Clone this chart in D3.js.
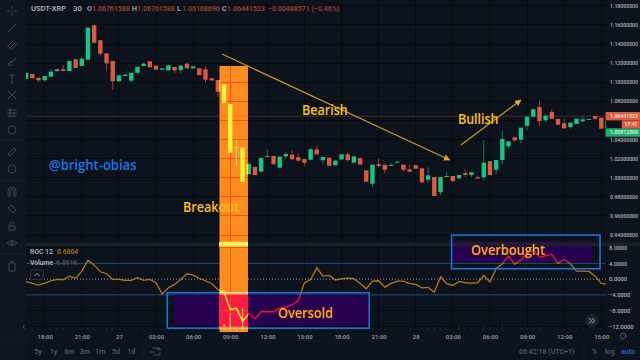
<!DOCTYPE html>
<html>
<head>
<meta charset="utf-8">
<script src="https://cdn.jsdelivr.net/npm/d3@7/dist/d3.min.js"></script>
<style>
  html, body { margin: 0; padding: 0; background: #0c131c; }
  svg { display: block; }
  text { font-family: Roboto, Inter, sans-serif; font-weight: 500; }
</style>
</head>
<body>
<svg id="chart" width="640" height="360"></svg>
<script>
// candles are counted in half hours from 18:00 on the 26th
const firstCandle = -3;
const opens = [1.1037,1.1086,1.1047,1.1020,1.1057,1.1117,1.1135,1.1117,1.1240,1.1170,1.1235,1.1596,1.1439,1.1302,1.1222,1.1009,1.1065,1.1016,1.1099,1.1170,1.1219,1.1173,1.1131,1.1124,1.1159,1.1128,1.1194,1.1145,1.1145,1.1135,1.1041,1.1023,1.0978,1.0772,1.0321,1.0314,1.0036,1.0112,1.0063,1.0217,1.0227,1.0105,1.0224,1.0241,1.0214,1.0196,1.0188,1.0297,1.0182,1.0209,1.0130,1.0191,1.0245,1.0157,1.0206,1.0077,0.9937,1.0140,1.0136,1.0126,1.0161,1.0136,1.0088,1.0130,1.0098,0.9979,1.0007,0.9847,1.0007,1.0018,0.9994,1.0049,1.0028,1.0004,1.0004,1.0172,1.0084,1.0185,1.0329,1.0423,1.0398,1.0544,1.0639,1.0740,1.0601,1.0688,1.0615,1.0570,1.0531,1.0562,1.0591,1.0607,1.0646,1.0628,1.0520];
const closes = [1.1099,1.1041,1.1020,1.1065,1.1110,1.1135,1.1117,1.1222,1.1149,1.1246,1.1571,1.1413,1.1298,1.1198,1.1009,1.1072,1.1078,1.1099,1.1162,1.1194,1.1156,1.1131,1.1145,1.1177,1.1124,1.1173,1.1145,1.1166,1.1075,1.1026,1.1018,1.0900,1.0785,1.0262,1.0311,0.9958,1.0143,1.0028,1.0206,1.0227,1.0140,1.0220,1.0248,1.0193,1.0178,1.0157,1.0297,1.0245,1.0217,1.0126,1.0178,1.0245,1.0185,1.0224,1.0136,0.9958,1.0136,1.0123,1.0084,1.0133,1.0168,1.0084,1.0063,1.0094,0.9952,1.0025,0.9808,1.0007,1.0018,0.9965,1.0028,1.0031,1.0057,0.9990,1.0157,1.0028,1.0185,1.0405,1.0381,1.0392,1.0524,1.0639,1.0716,1.0594,1.0649,1.0618,1.0555,1.0517,1.0576,1.0618,1.0611,1.0615,1.0618,1.0513,1.0591];
const highs = [1.1099,1.1086,1.1047,1.1065,1.1135,1.1138,1.1180,1.1222,1.1240,1.1274,1.1571,1.1596,1.1439,1.1302,1.1222,1.1072,1.1086,1.1099,1.1162,1.1204,1.1219,1.1180,1.1145,1.1177,1.1159,1.1173,1.1204,1.1166,1.1145,1.1166,1.1041,1.1023,1.0978,1.0772,1.0395,1.0314,1.0164,1.0112,1.0217,1.0297,1.0227,1.0220,1.0266,1.0290,1.0255,1.0196,1.0308,1.0335,1.0217,1.0209,1.0188,1.0245,1.0266,1.0224,1.0206,1.0077,1.0136,1.0203,1.0136,1.0157,1.0175,1.0136,1.0136,1.0130,1.0098,1.0109,1.0007,1.0007,1.0060,1.0018,1.0028,1.0088,1.0057,1.0025,1.0395,1.0172,1.0185,1.0492,1.0381,1.0423,1.0524,1.0639,1.0727,1.0810,1.0667,1.0716,1.0622,1.0622,1.0576,1.0618,1.0646,1.0615,1.0646,1.0628,1.0591];
const lows = [1.1037,1.1041,1.1002,1.1005,1.1057,1.1107,1.1117,1.1117,1.1149,1.1170,1.1235,1.1413,1.1277,1.1114,1.0918,1.1009,1.1065,1.0995,1.1078,1.1170,1.1156,1.1131,1.1131,1.1124,1.1093,1.1093,1.1145,1.1145,1.1075,1.0995,1.1018,1.0848,1.0785,1.0262,1.0126,0.9958,1.0036,1.0028,1.0063,1.0217,1.0140,1.0105,1.0193,1.0193,1.0178,1.0119,1.0188,1.0245,1.0140,1.0126,1.0130,1.0191,1.0168,1.0157,1.0136,0.9958,0.9906,1.0105,1.0046,1.0126,1.0161,1.0063,1.0063,1.0094,0.9941,0.9948,0.9808,0.9816,1.0007,0.9952,0.9986,1.0004,1.0004,0.9990,0.9976,1.0028,1.0039,1.0143,1.0311,1.0371,1.0360,1.0496,1.0632,1.0544,1.0580,1.0618,1.0555,1.0510,1.0513,1.0562,1.0583,1.0607,1.0597,1.0513,1.0520];
const rocValues = [-0.66,-1.09,-1.53,-1.02,-0.41,-0.08,-0.15,0.76,0.25,1.96,4.83,3.56,1.88,1.37,-0.08,-0.08,-0.33,-0.33,0.36,-0.33,-0.08,-0.92,-3.82,-2.19,-1.35,-0.08,1.37,1.02,0.18,-0.41,-1.09,-2.70,-3.21,-7.71,-7.38,-10.76,-8.80,-10.08,-8.30,-8.30,-8.30,-7.38,-7.12,-6.51,-5.50,-0.92,-0.08,2.90,0.76,0.94,-0.25,0.10,0.25,0.10,-1.09,-2.44,-0.51,-0.41,-2.04,-1.09,-0.51,-0.51,-1.09,-1.35,-2.24,-2.11,-3.31,0.61,-1.17,-1.60,-0.59,-0.92,-1.02,-0.92,0.94,-0.76,2.65,3.92,5.85,3.82,4.83,6.72,7.38,5.60,5.95,6.28,3.99,5.01,3.92,2.04,2.04,1.96,0.76,-1.09,-1.22];
const volumes = [1,1,1,1,1,1,2,1,1,2,3,2,1,2,3,1,1,1,1,1,1,1,1,1,1,1,1,1,2,2,2,4,6,17,3,22,4,3,2,1,1,2,1,1,1,1,2,1,1,1,1,1,1,1,1,2,2,1,1,1,1,1,1,1,2,2,3,2,1,1,4,1,1,1,5,3,2,6,1,1,3,2,2,3,1,1,1,1,1,1,1,1,1,2,1];

const timeTicks = [0,6,12,18,24,30,36,42,48,54,60,66,72,78,84,90];
const timeLabels = ["18:00","21:00","27","03:00","06:00","09:00","12:00","15:00","18:00","21:00","28","03:00","06:00","09:00","12:00","15:00"];
const priceTicks = [1.18,1.16,1.14,1.12,1.10,1.08,1.06,1.04,1.02,1.00,0.98,0.96,0.94];
const rocTicks = [8,4,0,-4,-8,-12];
const rangeButtons = ["5y","1y","6m","3m","1m","5d","1d"];

const lastPrice = 1.06441523;
const bearishLine = [[28.67,1.1295],[65.5,1.0185]];
const bullishLine = [[67.3,1.0342],[77,1.0813]];
const breakoutBand = [28.23,32.87];
const oversoldBox = [19.82,52.48,-3.46,-12.47];
const oversoldFill = [20.9,52.3,-4.0,-11.9];
const overboughtBox = [65.8,89.8,11.2,2.65];
const overboughtFill = [66,88.5,9.6,4.33];

const svg = d3.select("#chart");
const plotLeft = 26, plotRight = 606;

const x = d3.scaleLinear().domain([0,90]).range([44.7,601.3]);
const yPrice = d3.scaleLinear().domain([0.94,1.18]).range([235,5.8]);
const yRoc = d3.scaleLinear().domain([-12,8]).range([326.3,247.7]);
const yVol = d3.scaleLinear().domain([0,30]).range([330,300]);
const candleWidth = 4.4;

const candles = opens.map((o,i) => ({
    t: firstCandle + i, open: o, close: closes[i], high: highs[i], low: lows[i], vol: volumes[i]
}));
const rocLine = d3.line().x((d,i) => x(firstCandle + i)).y(d => yRoc(d));

const defs = svg.append("defs");
function addClip(id, x0, y0, x1, y1) {
    defs.append("clipPath").attr("id", id).append("rect")
        .attr("x", x0).attr("y", y0).attr("width", x1 - x0).attr("height", y1 - y0);
}
addClip("plot-clip", plotLeft, 0, plotRight, 331);
addClip("oversold-clip", x(oversoldFill[0]), yRoc(oversoldFill[2]), x(oversoldFill[1]), yRoc(oversoldFill[3]));
addClip("overbought-clip", x(overboughtFill[0]), yRoc(overboughtFill[2]), x(overboughtFill[1]), yRoc(overboughtFill[3]));

// background and toolbar
svg.append("rect").attr("width", 640).attr("height", 360).attr("fill", "#0c131c");
svg.append("rect").attr("width", plotLeft).attr("height", 360).attr("fill", "#0f1620");

function drawGrid(g, color) {
    g.attr("shape-rendering", "crispEdges");
    g.selectAll("line.v").data(timeTicks).join("line").attr("class", "v")
        .attr("x1", d => x(d)).attr("x2", d => x(d)).attr("y1", 0).attr("y2", 330)
        .attr("stroke", color);
    g.selectAll("line.h").data(priceTicks).join("line").attr("class", "h")
        .attr("x1", plotLeft).attr("x2", plotRight)
        .attr("y1", d => yPrice(d)).attr("y2", d => yPrice(d))
        .attr("stroke", color);
    g.selectAll("line.r").data(rocTicks.filter(d => d === 8 || d <= -8)).join("line").attr("class", "r")
        .attr("x1", plotLeft).attr("x2", plotRight)
        .attr("y1", d => yRoc(d)).attr("y2", d => yRoc(d))
        .attr("stroke", color);
}

function drawCandles(g, upColor, downColor, upWick, downWick) {
    const isUp = d => d.close >= d.open;
    g.selectAll("line.wick").data(candles).join("line").attr("class", "wick")
        .attr("x1", d => x(d.t)).attr("x2", d => x(d.t))
        .attr("y1", d => yPrice(d.high)).attr("y2", d => yPrice(d.low))
        .attr("stroke", d => isUp(d) ? upWick : downWick);
    g.selectAll("rect.body").data(candles).join("rect").attr("class", "body")
        .attr("x", d => x(d.t) - candleWidth / 2)
        .attr("width", candleWidth)
        .attr("y", d => yPrice(Math.max(d.open, d.close)))
        .attr("height", d => Math.max(1, Math.abs(yPrice(d.open) - yPrice(d.close))))
        .attr("fill", d => isUp(d) ? upColor : downColor);
}

function drawVolume(g, color) {
    g.selectAll("rect.vol").data(candles).join("rect").attr("class", "vol")
        .attr("x", d => x(d.t) - 0.5).attr("width", 1)
        .attr("y", d => yVol(d.vol)).attr("height", d => yVol(0) - yVol(d.vol))
        .attr("fill", color);
}

function boxRect(g, b) {
    return g.append("rect")
        .attr("x", x(b[0])).attr("width", x(b[1]) - x(b[0]))
        .attr("y", yRoc(b[2])).attr("height", yRoc(b[3]) - yRoc(b[2]));
}

// grid
const plot = svg.append("g").attr("clip-path", "url(#plot-clip)");
drawGrid(plot.append("g"), "#05090e");

// last price line
plot.append("line")
    .attr("x1", plotLeft).attr("x2", plotRight)
    .attr("y1", yPrice(lastPrice)).attr("y2", yPrice(lastPrice))
    .attr("stroke", "#4b2a26");

// ROC guide lines
[4,-4].forEach(v => {
    plot.append("line").attr("x1", plotLeft).attr("x2", plotRight)
        .attr("y1", yRoc(v)).attr("y2", yRoc(v))
        .attr("stroke", "#1b4f80");
});
plot.append("line").attr("x1", plotLeft).attr("x2", plotRight)
    .attr("y1", yRoc(0)).attr("y2", yRoc(0))
    .attr("stroke", "#8d939b").attr("stroke-dasharray", "1,2");

drawVolume(plot.append("g"), "#2a323b");
drawCandles(plot.append("g"), "#17c684", "#dc5a40", "#1a7a58", "#94402f");

// purple highlight fills
boxRect(svg, oversoldFill).attr("fill", "#280050");
boxRect(svg, overboughtFill).attr("fill", "#280050");

// pane separator
svg.append("rect").attr("x", plotLeft).attr("width", 640 - plotLeft)
    .attr("y", 242.3).attr("height", 4).attr("fill", "#1c232b").attr("fill-opacity", 0.85);

// ROC line, red where it runs through the purple
plot.append("path").datum(rocValues).attr("d", rocLine)
    .attr("fill", "none").attr("stroke", "#b8761a").attr("stroke-width", 1.3);
["oversold-clip","overbought-clip"].forEach(id => {
    svg.append("g").attr("clip-path", `url(#${id})`)
        .append("path").datum(rocValues).attr("d", rocLine)
        .attr("fill", "none").attr("stroke", "#f5102e").attr("stroke-width", 1.3);
});

// blue outlines
[oversoldBox, overboughtBox].forEach(b => {
    boxRect(svg, b).attr("fill", "none").attr("stroke", "#1b74d8").attr("stroke-width", 1.6);
});

// breakout band: everything under it shows up in the band colours
const bandTop = yPrice(1.117), bandBottom = yRoc(-13.5);
addClip("band-clip", x(breakoutBand[0]), bandTop, x(breakoutBand[1]), bandBottom);
const band = svg.append("g").attr("clip-path", "url(#band-clip)");
band.append("rect").attr("x", x(breakoutBand[0])).attr("width", x(breakoutBand[1]) - x(breakoutBand[0]))
    .attr("y", bandTop).attr("height", bandBottom - bandTop).attr("fill", "#ff8c1f");
boxRect(band, [oversoldFill[0], oversoldFill[1], oversoldFill[2], -12.6]).attr("fill", "#ff1a45");
drawGrid(band.append("g"), "#ff4d12");
band.append("line").attr("x1", plotLeft).attr("x2", plotRight)
    .attr("y1", yPrice(lastPrice)).attr("y2", yPrice(lastPrice)).attr("stroke", "#f9761c");
band.append("rect").attr("x", plotLeft).attr("width", 300).attr("y", 241.8).attr("height", 5).attr("fill", "#ffe92e");
band.append("rect").attr("x", plotLeft).attr("width", 300).attr("y", 243.3).attr("height", 1.6).attr("fill", "#fffbb0");
band.append("line").attr("x1", plotLeft).attr("x2", plotRight)
    .attr("y1", yRoc(oversoldBox[2])).attr("y2", yRoc(oversoldBox[2]))
    .attr("stroke", "#ffe3c4").attr("stroke-width", 1.6);
band.append("line").attr("x1", plotLeft).attr("x2", plotRight)
    .attr("y1", yRoc(oversoldBox[3])).attr("y2", yRoc(oversoldBox[3]))
    .attr("stroke", "#ffe3c4").attr("stroke-width", 1.2);
drawVolume(band.append("g"), "#ffe13a");
drawCandles(band.append("g"), "#fff23a", "#fff23a", "#ffd27a", "#ffd27a");
band.append("path").datum(rocValues).attr("d", rocLine)
    .attr("fill", "none").attr("stroke", "#ffee2e").attr("stroke-width", 1.5);

// trend arrows
const trendLine = d3.line().x(d => x(d[0])).y(d => yPrice(d[1]));
defs.append("marker").attr("id", "arrow-head")
    .attr("viewBox", "0 0 10 10").attr("refX", 9).attr("refY", 5)
    .attr("markerWidth", 5).attr("markerHeight", 5).attr("orient", "auto")
    .append("path").attr("d", "M0,0 L10,5 L0,10 Z").attr("fill", "#e0ab10");
[bearishLine, bullishLine].forEach(l => {
    svg.append("path").datum(l).attr("d", trendLine)
        .attr("fill", "none").attr("stroke", "#c79a12").attr("stroke-width", 1.3)
        .attr("marker-end", "url(#arrow-head)");
});

// annotations, squeezed to the narrow lettering of the original
function note(label, px, py, size, width, color) {
    svg.append("text").attr("x", px).attr("y", py)
        .attr("textLength", width).attr("lengthAdjust", "spacingAndGlyphs")
        .style("font-family", "'Open Sans', sans-serif")
        .style("font-weight", 600).style("font-size", size + "px")
        .attr("fill", color).text(label);
}
note("Bearish", 302, 114.7, 14.5, 45.7, "#ffc107");
note("Bullish", 458, 124.3, 14.5, 40.5, "#ffc107");
note("Breakout", 183, 212, 14, 56, "#ffc107");
note("Oversold", 278, 317.7, 14.5, 55, "#ffb300");
note("Overbought", 471, 254.5, 15, 74, "#ffb300");
note("@bright-obias", 49, 170, 14, 87.5, "#1a78e6");

// price axis labels, the 1.06 one sits under the last price tags
const priceAxis = d3.axisRight(yPrice).tickValues(priceTicks.filter(d => d !== 1.06)).tickSize(0).tickPadding(0)
    .tickFormat(d => d.toFixed(8));
svg.append("g").attr("transform", "translate(610,0)").call(priceAxis)
    .call(g => g.select(".domain").remove())
    .selectAll("text").attr("fill", "#b0b6bd").style("font-size", "5.2px");

const rocAxis = d3.axisRight(yRoc).tickValues(rocTicks).tickSize(0).tickPadding(0)
    .tickFormat(d => (d < 0 ? "\u2212" : "") + Math.abs(d).toFixed(4));
svg.append("g").attr("transform", "translate(609,0)").call(rocAxis)
    .call(g => g.select(".domain").remove())
    .selectAll("text").attr("fill", "#b0b6bd").style("font-size", "5.8px");

// time axis
const timeAxis = d3.axisBottom(x).tickValues(timeTicks).tickSize(0).tickPadding(0)
    .tickFormat((d,i) => timeLabels[i]);
svg.append("g").attr("transform", "translate(0,334.5)").call(timeAxis)
    .call(g => g.select(".domain").remove())
    .selectAll("text").attr("fill", "#9aa1a9").style("font-size", "6px");

// last price tags
function tag(px, py, w, h, color, label, textX, anchor) {
    svg.append("rect").attr("x", px).attr("y", py).attr("width", w).attr("height", h).attr("fill", color);
    svg.append("text").attr("x", textX).attr("y", py + h / 2 + 1.9).attr("text-anchor", anchor || "start")
        .style("font-size", "5.2px").attr("fill", "#eef2ee").text(label);
}
tag(605.5, 128.3, 34.5, 8.4, "#17b26a", "1.05812000", 610);
tag(605.5, 112, 34.5, 8.4, "#dc5a40", "1.06441523", 610);
tag(621.7, 120.4, 18.3, 8, "#dc5a40", "17:41", 631, "middle");

// header
const header = svg.append("g").style("font-size", "7px");
function headText(px, py, label, color, size) {
    header.append("text").attr("x", px).attr("y", py).attr("fill", color)
        .style("font-size", (size || 7) + "px").text(label);
}
const hdrRed = "#b5422f", hdrGray = "#b4bac1";
headText(31, 11, "USDT-XRP", hdrGray, 7.6);
headText(73, 11, "30", hdrGray, 7.8);
headText(87, 11, "O", hdrGray);
headText(92, 11, "1.06761588", hdrRed);
headText(132, 11, "H", hdrGray);
headText(137, 11, "1.06761588", hdrRed);
headText(177, 11, "L", hdrGray);
headText(182, 11, "1.06168696", hdrRed);
headText(222, 11, "C", hdrGray);
headText(227, 11, "1.06441523", hdrRed);
headText(268, 11, "\u22120.00488571 (\u22120.46%)", hdrRed);

// indicator legends
headText(30, 254, "ROC 12", "#b4bac1", 6.8);
headText(57, 254, "0.6804", "#b8761a", 6.8);
headText(30, 265, "Volume", "#b4bac1", 6.8);
headText(56, 265, "6.861K", "#4f5862", 6.8);
svg.append("rect").attr("x", 30.5).attr("y", 270).attr("width", 13).attr("height", 9.5).attr("rx", 2)
    .attr("fill", "#0c131c").attr("stroke", "#2b333c");
svg.append("path").attr("d", "M34.5,276 L37,273.5 L39.5,276").attr("fill", "none").attr("stroke", "#9aa1a9");

// range buttons and status bar
svg.append("line").attr("x1", 0).attr("x2", 640).attr("y1", 341).attr("y2", 341).attr("stroke", "#141b24");
const rangeX = d3.scalePoint().domain(rangeButtons).range([38, 131.5]);
svg.selectAll("text.range").data(rangeButtons).join("text").attr("class", "range")
    .attr("x", d => rangeX(d)).attr("y", 354).attr("text-anchor", "middle")
    .style("font-size", "7px").attr("fill", "#57606b").text(d => d);
svg.append("line").attr("x1", 143).attr("x2", 143).attr("y1", 346).attr("y2", 356).attr("stroke", "#1d252e");
svg.append("path").attr("d", "M152,348 h7 v3 M160,352 v3 h-7 M150,352 h5 M157,350 l2,-2 l2,2")
    .attr("fill", "none").attr("stroke", "#4a535e");
svg.append("text").attr("x", 519).attr("y", 354).style("font-size", "7px").attr("fill", "#57606b").text("06:42:18 (UTC+1)");
svg.append("line").attr("x1", 584).attr("x2", 584).attr("y1", 346).attr("y2", 357).attr("stroke", "#1d252e");
svg.append("text").attr("x", 592).attr("y", 354).style("font-size", "7px").attr("fill", "#57606b").text("%");
svg.append("text").attr("x", 605).attr("y", 354).style("font-size", "7px").attr("fill", "#57606b").text("log");
svg.append("text").attr("x", 621).attr("y", 354).style("font-size", "7px").attr("fill", "#1a6fd0").text("auto");

// scroll button and settings
svg.append("circle").attr("cx", 591.7).attr("cy", 320.7).attr("r", 6.5).attr("fill", "#1c232c");
svg.append("path").attr("d", "M589,318 l2.5,2.7 l-2.5,2.7 M592,318 l2.5,2.7 l-2.5,2.7")
    .attr("fill", "none").attr("stroke", "#aab0b7");
svg.append("circle").attr("cx", 623).attr("cy", 336).attr("r", 2.8).attr("fill", "none").attr("stroke", "#4a535e").attr("stroke-width", 1.4)
    .attr("stroke-dasharray", "2,0.6");
svg.append("path").attr("d", "M24.5,325 l-1.5,2 l1.5,2").attr("fill", "none").attr("stroke", "#4a535e");

// toolbar icons
const iconPaths = [
    [11, "M0,-5 V-1.5 M0,1.5 V5 M-5,0 H-1.5 M1.5,0 H5", "#1c4f7f"],
    [28, "M-4,4 L4,-4", "#3f4954"],
    [45, "M-5,2 L1,-4 M-3,4 L3,-2 M-1,5 L5,-1", "#3f4954"],
    [62, "M-4,4 C-3,1 -2,0 0,0 L4,-4 M0,0 a2,2 0 1 0 1,2", "#3f4954"],
    [79, "M-3,-4 H3 M0,-4 V4 M-1.5,4 H1.5", "#3f4954"],
    [95, "M-4,-4 L4,4 M4,-4 L-4,4 M-4,-4 h1 M3,4 h1", "#3f4954"],
    [113, "M-5,-3 H5 M-5,0 H5 M-5,3 H5 M-2,-5 V5 M2,-1 V4", "#3f4954"],
    [152, "M-4,2 L2,-4 L4,-2 L-2,4 Z", "#3f4954"],
    [192, "M-4,4 V-1 A4,4 0 0 1 4,-1 V4 H2 V-1 A2,2 0 0 0 -2,-1 V4 Z", "#3f4954"],
    [209, "M-4,-1 L-1,-4 L4,1 L1,4 Z", "#3f4954"],
    [226, "M-3,0 H3 V4 H-3 Z M-2,0 V-2 A2,2 0 0 1 2,-2", "#3f4954"],
    [243, "M-5,0 Q0,-4.5 5,0 Q0,4.5 -5,0 Z M1.2,0 A1.2,1.2 0 1 1 -1.2,0 A1.2,1.2 0 1 1 1.2,0", "#3f4954"],
    [266, "M-3,-3 H3 V5 H-3 Z M-1.5,-4.5 H1.5", "#3f4954"]
];
svg.selectAll("path.icon").data(iconPaths).join("path").attr("class", "icon")
    .attr("transform", d => `translate(12,${d[0]})`)
    .attr("d", d => d[1]).attr("fill", "none").attr("stroke", d => d[2]);
[130, 169].forEach(cy => {
    svg.append("circle").attr("cx", 12).attr("cy", cy).attr("r", 4).attr("fill", "none").attr("stroke", "#3f4954");
});
[140, 181, 254].forEach(sy => {
    svg.append("line").attr("x1", 0).attr("x2", 25).attr("y1", sy).attr("y2", sy).attr("stroke", "#1c232c");
});
</script>
</body>
</html>
